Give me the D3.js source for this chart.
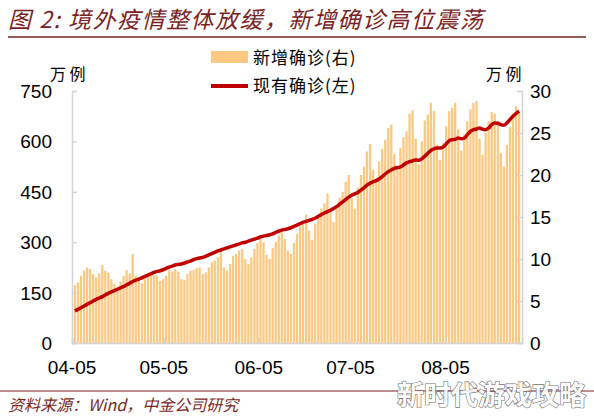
<!DOCTYPE html>
<html><head><meta charset="utf-8">
<script src="https://cdn.jsdelivr.net/npm/d3@7"></script>
<style>body{margin:0;background:#fff}svg{font-family:Arial,"Liberation Sans",sans-serif}</style>
</head><body><svg id="c" width="594" height="418"></svg>
<script>
// 新增确诊 (右轴, 万例), 04-05 .. 08-30
var newCases = [
 6.9,7.2,8.0,8.6,9.0,8.8,8.2, 7.8,8.3,9.3,8.6,8.4,7.6,7.0, 6.6,7.3,8.0,8.7,8.3,10.6,8.0,
 7.6,7.1,7.7,8.2,8.4,8.1,8.0, 7.4,7.6,8.0,8.7,8.5,8.8,8.5, 7.6,7.5,8.2,8.6,8.7,8.9,9.0,
 8.2,8.4,9.0,9.6,9.8,10.2,11.2, 9.0,8.6,9.4,10.4,10.6,11.0,11.2, 10.0,9.4,10.2,11.2,11.9,12.7,12.0,
 10.5,10.0,11.3,12.0,12.8,13.2,12.4, 11.0,10.6,11.9,13.0,13.9,14.6,15.3, 13.4,12.3,14.2,15.2,16.0,16.6,17.8,
 15.6,14.4,16.0,17.3,18.0,19.2,20.0, 17.3,16.0,18.5,20.0,21.0,22.8,23.7, 20.6,19.6,21.6,23.1,24.2,25.6,26.0,
 22.5,21.0,23.2,24.5,25.2,27.3,27.7, 24.3,21.3,24.0,26.5,27.2,28.6,27.6, 23.6,21.8,23.8,25.8,27.6,28.0,28.6,
 25.4,22.9,24.9,26.4,27.8,28.6,28.8, 24.3,22.4,25.0,26.4,27.5,27.3,26.4, 22.6,21.0,23.6,25.7,27.3,28.2,27.5
];
// 现有确诊 (左轴, 万例)
var activeCases = [
 95,100,105,110,115,120,125, 130,134,138,143,148,152,156, 160,164,168,173,178,183,187,
 190,194,198,202,206,210,213, 215,218,222,226,229,232,234, 235,238,241,244,248,251,253,
 255,258,262,266,270,274,277, 280,283,286,289,292,295,298, 300,303,306,309,312,316,318,
 320,322,325,329,333,336,338, 340,343,347,351,355,359,362, 365,368,372,377,382,387,391,
 395,400,406,413,420,427,434, 440,444,448,455,462,470,475, 480,483,488,495,503,510,515,
 520,522,524,530,536,540,542, 545,544,548,556,565,573,578, 580,580,583,592,602,605,606,
 610,608,610,620,630,635,637, 640,636,635,640,650,655,654, 650,648,655,665,675,683,690
];
var xTickLabels = ["04-05","05-05","06-05","07-05","08-05"];
var xTickIdx = [0,30,61,91,122];
var leftTicks = [0,150,300,450,600,750];
var rightTicks = [0,5,10,15,20,25,30];

var svg = d3.select("#c");
var red = "#7b1f1f";
var L = 72, R = 522, T = 91, B = 343;
var cjk = "'Noto Sans CJK SC',sans-serif";

svg.append("text").attr("x",8).attr("y",28).attr("fill",red).attr("font-size",23)
  .attr("font-style","italic").attr("font-family",cjk).attr("letter-spacing",1.5)
  .text("图 2:  境外疫情整体放缓，新增确诊高位震荡");
svg.append("line").attr("x1",8).attr("x2",586).attr("y1",37).attr("y2",37).attr("stroke",red).attr("stroke-width",1.5);

var x = d3.scaleBand().domain(d3.range(newCases.length)).range([L+1,R-1]).padding(0.25);
var yL = d3.scaleLinear().domain([0,750]).range([B,T]);
var yR = d3.scaleLinear().domain([0,30]).range([B,T]);

svg.append("g").selectAll("rect").data(newCases).join("rect")
  .attr("x",(d,i)=>x(i)).attr("width",x.bandwidth())
  .attr("y",d=>yR(d)).attr("height",d=>B-yR(d)).attr("fill","#fcc882");

var line = d3.line().x((d,i)=>x(i)+x.bandwidth()/2).y(d=>yL(d)).curve(d3.curveMonotoneX);
svg.append("path").datum(activeCases).attr("d",line).attr("fill","none")
  .attr("stroke","#c00000").attr("stroke-width",3.5).attr("stroke-linejoin","round");

var ax = "#d4d4d4";
var gl = svg.append("g").attr("transform","translate("+L+",0)")
  .call(d3.axisRight(yL).tickValues(leftTicks).tickSize(5).tickFormat(""));
var gr = svg.append("g").attr("transform","translate("+R+",0)")
  .call(d3.axisLeft(yR).tickValues(rightTicks).tickSize(5).tickFormat(""));
var xs = d3.scaleLinear().domain([0,newCases.length]).range([L,R]);
var gx = svg.append("g").attr("transform","translate(0,"+B+")")
  .call(d3.axisBottom(xs).tickValues(xTickIdx).tickSize(-5).tickFormat(""));
[gl,gr,gx].forEach(g=>{g.selectAll("path,line").attr("stroke",ax).attr("stroke-width",1.5);});

var lab = svg.append("g").attr("font-size",19).attr("fill","#000");
leftTicks.forEach(v=>lab.append("text").attr("x",52).attr("y",yL(v)+7).attr("text-anchor","end").text(v));
rightTicks.forEach(v=>lab.append("text").attr("x",530).attr("y",yR(v)+7).text(v));
xTickIdx.forEach((v,i)=>lab.append("text").attr("x",xs(v)).attr("y",374).attr("text-anchor","middle").text(xTickLabels[i]));

svg.append("text").attr("x",50).attr("y",80).attr("font-size",16).attr("font-family",cjk).text("万 例");
svg.append("text").attr("x",486).attr("y",80).attr("font-size",16).attr("font-family",cjk).text("万 例");

svg.append("rect").attr("x",211).attr("y",51).attr("width",37).attr("height",12).attr("fill","#fcc882");
svg.append("text").attr("x",253).attr("y",64).attr("font-size",17).attr("font-family",cjk).attr("letter-spacing",1).text("新增确诊(右)");
svg.append("line").attr("x1",211).attr("x2",248).attr("y1",86).attr("y2",86).attr("stroke","#c00000").attr("stroke-width",4);
svg.append("text").attr("x",253).attr("y",92).attr("font-size",17).attr("font-family",cjk).attr("letter-spacing",1).text("现有确诊(左)");

svg.append("line").attr("x1",0).attr("x2",594).attr("y1",391).attr("y2",391).attr("stroke",red).attr("stroke-width",1);
svg.append("text").attr("x",8).attr("y",411).attr("fill",red).attr("font-size",16).attr("font-style","italic")
  .attr("font-family",cjk).text("资料来源：Wind，中金公司研究");

svg.append("text").attr("x",586).attr("y",405).attr("text-anchor","end").attr("font-size",27).attr("font-weight","bold")
  .attr("font-family",cjk).attr("fill","#fff").attr("stroke","#555").attr("stroke-width",1.2).attr("paint-order","stroke")
  .attr("opacity",0.85).text("新时代游戏攻略");
</script></body></html>
